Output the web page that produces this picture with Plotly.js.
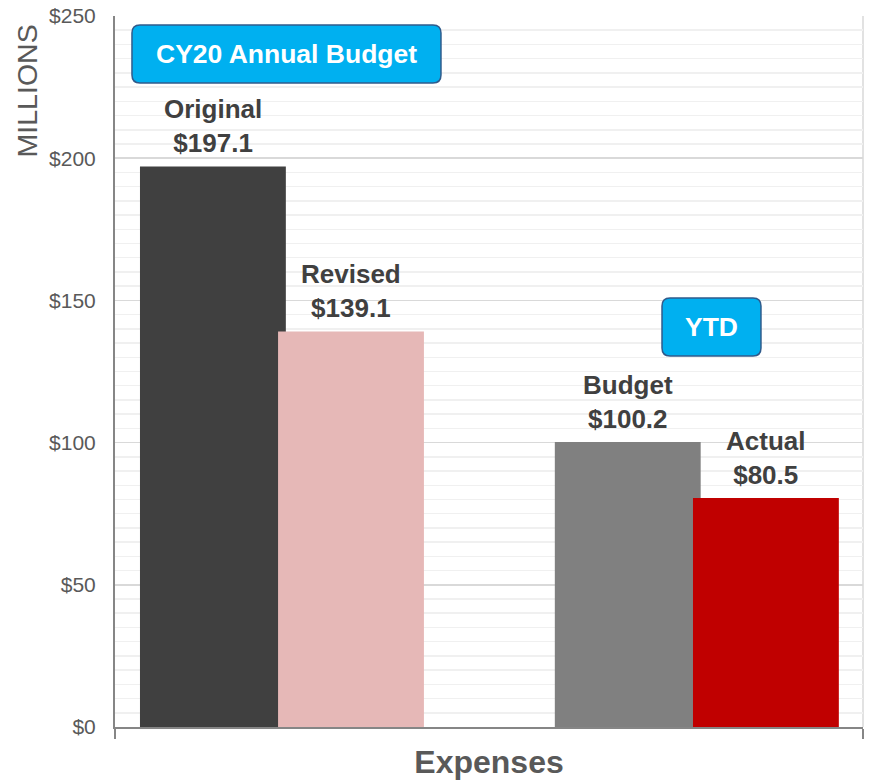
<!DOCTYPE html>
<html>
<head>
<meta charset="utf-8">
<script src="https://cdn.plot.ly/plotly-3.0.1.min.js"></script>
<style>html,body{margin:0;padding:0;background:#fff;}#chart{width:870px;height:782px;}</style>
</head>
<body>
<div id="chart"></div>
<script>
const category = 'Expenses';
const seriesNames = ['Original', 'Revised', 'Budget', 'Actual'];
const seriesValues = [197.1, 139.1, 100.2, 80.5];
const groupLabels = ['CY20 Annual Budget', 'YTD'];
const yTickVals = [0, 50, 100, 150, 200, 250];
const yTickText = ['$0', '$50', '$100', '$150', '$200', '$250'];
const yAxisLabel = 'MILLIONS';

const colors = ['#404040', '#E6B8B7', '#808080', '#C00000'];
const offsets = [-0.4666, -0.282, 0.088, 0.2727];
const barWidth = 0.195;
const FONT = '"Liberation Sans", Arial, sans-serif';

const traces = seriesNames.map((name, i) => ({
  type: 'bar',
  name: name,
  x: [category],
  y: [seriesValues[i]],
  width: [barWidth],
  offset: [offsets[i]],
  marker: {color: colors[i], line: {width: 0}},
  hoverinfo: 'skip'
}));

function roundRect(x0, y0, x1, y1, rx, ry) {
  return `M ${x0 + rx} ${y0} L ${x1 - rx} ${y0} Q ${x1} ${y0} ${x1} ${y0 + ry} ` +
         `L ${x1} ${y1 - ry} Q ${x1} ${y1} ${x1 - rx} ${y1} L ${x0 + rx} ${y1} ` +
         `Q ${x0} ${y1} ${x0} ${y1 - ry} L ${x0} ${y0 + ry} Q ${x0} ${y0} ${x0 + rx} ${y0} Z`;
}
const rx = 0.0107, ry = 0.0113;
const boxes = [
  {x0: 0.0227, x1: 0.4358, y0: 0.9058, y1: 0.9873},
  {x0: 0.7313, x1: 0.8636, y0: 0.5218, y1: 0.6034}
];

const shapes = boxes.map(b => ({
  type: 'path', xref: 'paper', yref: 'paper',
  path: roundRect(b.x0, b.y0, b.x1, b.y1, rx, ry),
  fillcolor: '#00B0F0', line: {color: '#2F5B8C', width: 1.5}, layer: 'above'
}));
shapes.push({type: 'line', xref: 'paper', yref: 'paper', x0: 1, x1: 1, y0: 0, y1: 1,
  line: {color: '#D9D9D9', width: 1.5}, layer: 'below'});

const annotations = boxes.map((b, i) => ({
  xref: 'paper', yref: 'paper', x: (b.x0 + b.x1) / 2, y: (b.y0 + b.y1) / 2,
  xanchor: 'center', yanchor: 'middle', showarrow: false,
  text: '<b>' + groupLabels[i] + '</b>',
  font: {family: FONT, size: 26.5, color: '#FFFFFF'}
}));
annotations.push({
  xref: 'paper', yref: 'paper', x: -0.1176, y: 0.894, xanchor: 'center', yanchor: 'middle',
  showarrow: false, textangle: -90, text: yAxisLabel,
  font: {family: FONT, size: 28.5, color: '#595959'}
});
seriesNames.forEach((name, i) => {
  annotations.push({
    xref: 'x', yref: 'y', x: offsets[i] + barWidth / 2, y: seriesValues[i],
    xanchor: 'center', yanchor: 'bottom', yshift: 6, showarrow: false,
    text: '<b>' + name + '</b><br><b>$' + seriesValues[i].toFixed(1) + '</b>',
    font: {family: FONT, size: 26, color: '#404040'}
  });
});

const layout = {
  width: 870, height: 782,
  margin: {l: 115, r: 7, t: 16, b: 55},
  paper_bgcolor: '#FFFFFF', plot_bgcolor: '#FFFFFF',
  barmode: 'overlay',
  showlegend: false,
  font: {family: FONT},
  xaxis: {
    type: 'category', range: [-0.5, 0.5],
    showline: true, linecolor: '#868686', linewidth: 2,
    ticks: 'outside', tickson: 'boundaries', ticklen: 10, tickcolor: '#868686', tickwidth: 2,
    ticklabelstandoff: 6,
    tickfont: {family: FONT, size: 32, color: '#595959', weight: 'bold'},
    showgrid: false, zeroline: false
  },
  yaxis: {
    range: [0, 250], tickvals: yTickVals, ticktext: yTickText,
    showline: true, linecolor: '#868686', linewidth: 2,
    ticks: '', ticklabelstandoff: 13,
    tickfont: {family: FONT, size: 21, color: '#595959'},
    showgrid: true, gridcolor: '#D9D9D9', gridwidth: 1.5,
    minor: {dtick: 5, showgrid: true, gridcolor: '#F0F0F0', gridwidth: 1.5},
    zeroline: false
  },
  shapes: shapes,
  annotations: annotations
};

Plotly.newPlot('chart', traces, layout, {displayModeBar: false, staticPlot: true});
</script>
</body>
</html>
